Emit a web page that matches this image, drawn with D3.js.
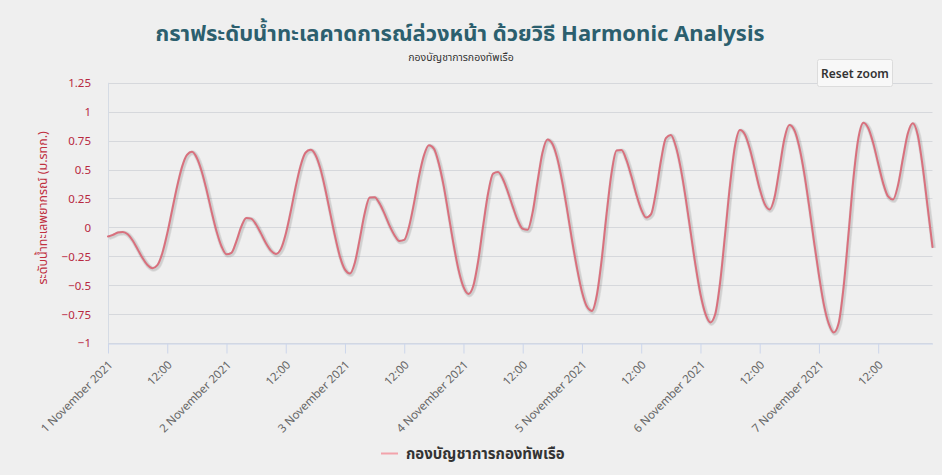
<!DOCTYPE html>
<html>
<head>
<meta charset="utf-8">
<script src="https://cdn.jsdelivr.net/npm/d3@7/dist/d3.min.js"></script>
<style>
  html, body { margin: 0; padding: 0; background: #efefef; }
  svg { display: block; }
</style>
</head>
<body>
<svg id="chart" width="942" height="475"></svg>
<script>
// ---- data ----
const titleText = "กราฟระดับน้ำทะเลคาดการณ์ล่วงหน้า ด้วยวิธี Harmonic Analysis";
const subtitleText = "กองบัญชาการกองทัพเรือ";
const seriesName = "กองบัญชาการกองทัพเรือ";
const yAxisTitle = "ระดับน้ำทะเลพยากรณ์ (ม.รทก.)";
const startTime = "2021-11-01T00:00:00";   // first hourly value
const endTime = "2021-11-07T23:00:00";     // last hourly value
const yTicks = [-1, -0.75, -0.5, -0.25, 0, 0.25, 0.5, 0.75, 1, 1.25];
const xTickLabels = ["1 November 2021", "12:00", "2 November 2021", "12:00", "3 November 2021", "12:00",
  "4 November 2021", "12:00", "5 November 2021", "12:00", "6 November 2021", "12:00",
  "7 November 2021", "12:00"];
// hourly predicted sea level (m)
const levels = [
  -0.08, -0.065, -0.045, -0.04, -0.06, -0.114, -0.189, -0.266, -0.326, -0.354, -0.328, -0.224,
  -0.054, 0.150, 0.353, 0.523, 0.627, 0.653, 0.600, 0.481, 0.317, 0.133, -0.037, -0.166,
  -0.234, -0.221, -0.122, 0.005, 0.081, 0.075, 0.024, -0.055, -0.138, -0.202, -0.230, -0.189,
  -0.058, 0.134, 0.347, 0.531, 0.645, 0.670, 0.628, 0.510, 0.332, 0.125, -0.080, -0.256,
  -0.366, -0.399, -0.306, -0.100, 0.122, 0.257, 0.261, 0.207, 0.118, 0.017, -0.066, -0.118,
  -0.109, 0.010, 0.213, 0.442, 0.622, 0.709, 0.680, 0.553, 0.356, 0.106, -0.148, -0.367,
  -0.516, -0.576, -0.506, -0.287, 0.017, 0.297, 0.465, 0.479, 0.416, 0.305, 0.177, 0.060,
  -0.014, -0.021, 0.127, 0.394, 0.645, 0.760, 0.723, 0.597, 0.396, 0.151, -0.114, -0.354,
  -0.558, -0.686, -0.723, -0.590, -0.279, 0.120, 0.471, 0.665, 0.668, 0.583, 0.443, 0.287,
  0.156, 0.085, 0.114, 0.309, 0.576, 0.771, 0.798, 0.701, 0.512, 0.255, -0.038, -0.328,
  -0.577, -0.747, -0.823, -0.750, -0.472, -0.058, 0.369, 0.703, 0.841, 0.803, 0.680, 0.508,
  0.333, 0.203, 0.155, 0.258, 0.506, 0.764, 0.884, 0.842, 0.699, 0.473, 0.187, -0.121,
  -0.414, -0.669, -0.836, -0.910, -0.828, -0.514, -0.053, 0.428, 0.773, 0.905, 0.857, 0.727,
  0.552, 0.382, 0.267, 0.240, 0.361, 0.593, 0.811, 0.900, 0.800, 0.530, 0.180, -0.170
];

// ---- layout ----
const W = 942, H = 475;
const plot = { left: 108, right: 932.5, top: 82.8, bottom: 342.9 };
const svg = d3.select("#chart");
const FONT = "'Noto Sans', 'Noto Sans Thai', 'Open Sans', 'DejaVu Sans', sans-serif";

// background
svg.append("rect").attr("width", W).attr("height", H).attr("fill", "#efefef");

const t0 = new Date(startTime), t1 = new Date(endTime);
const data = levels.map((v, i) => ({ t: d3.timeHour.offset(t0, i), v }));

const x = d3.scaleTime().domain([t0, t1]).range([plot.left, plot.right]);
const y = d3.scaleLinear().domain([-1, 1.25]).range([plot.bottom, plot.top]);

// horizontal grid
const grid = svg.append("g");
grid.selectAll("line").data(yTicks).join("line")
  .attr("x1", plot.left).attr("x2", plot.right)
  .attr("y1", d => Math.round(y(d)) + 0.5).attr("y2", d => Math.round(y(d)) + 0.5)
  .attr("stroke", "#d6d8dc").attr("stroke-width", 1);

// left plot border
svg.append("line")
  .attr("x1", plot.left + 0.5).attr("x2", plot.left + 0.5)
  .attr("y1", plot.top).attr("y2", plot.bottom)
  .attr("stroke", "#d5dbe4");

// y axis labels
const yAxis = d3.axisLeft(y).tickValues(yTicks).tickSize(0).tickPadding(0)
  .tickFormat(d => d3.format("")(d));
const gy = svg.append("g").attr("transform", `translate(${plot.left - 17},0)`).call(yAxis);
gy.select(".domain").remove();
gy.selectAll("text").attr("font-family", FONT).attr("font-size", 11.5)
  .attr("fill", "#b8283f").attr("dy", "0.35em");

// y axis title
svg.append("text")
  .attr("transform", `translate(47,${(plot.top + plot.bottom) / 2 - 5}) rotate(-90)`)
  .attr("text-anchor", "middle")
  .attr("font-family", FONT).attr("font-size", 12.5)
  .attr("fill", "#c0303f")
  .text(yAxisTitle);

// x axis
const tickDates = xTickLabels.map((_, i) => d3.timeHour.offset(t0, i * 12));
const xAxis = d3.axisBottom(x).tickValues(tickDates).tickSize(10).tickSizeOuter(0)
  .tickFormat((d, i) => xTickLabels[i]);
const gx = svg.append("g").attr("transform", `translate(0,${Math.round(plot.bottom) + 0.5})`).call(xAxis);
gx.select(".domain").attr("stroke", "#ccd6eb");
gx.selectAll(".tick line").attr("stroke", "#ccd6eb");
gx.selectAll("text")
  .attr("font-family", FONT).attr("font-size", 11.5).attr("fill", "#666")
  .attr("text-anchor", "end")
  .attr("dy", 0).attr("y", 0)
  .attr("transform", "translate(5,22) rotate(-45)");

// series line with shadow
const line = d3.line().x(d => x(d.t)).y(d => y(d.v)).curve(d3.curveMonotoneX);
svg.append("path").datum(data).attr("d", line)
  .attr("fill", "none").attr("stroke", "rgba(0,0,0,0.08)").attr("stroke-width", 5)
  .attr("transform", "translate(1,1)").attr("stroke-linejoin", "round");
svg.append("path").datum(data).attr("d", line)
  .attr("fill", "none").attr("stroke", "rgba(0,0,0,0.06)").attr("stroke-width", 3.5)
  .attr("transform", "translate(1,1)").attr("stroke-linejoin", "round");
svg.append("path").datum(data).attr("d", line)
  .attr("fill", "none").attr("stroke", "#d9707d").attr("stroke-width", 2)
  .attr("stroke-linejoin", "round").attr("stroke-linecap", "round");

// title & subtitle
svg.append("text").attr("x", 460).attr("y", 41).attr("text-anchor", "middle")
  .attr("font-family", FONT).attr("font-size", 22).attr("font-weight", "bold")
  .attr("fill", "#2c5f6e").text(titleText);
svg.append("text").attr("x", 461).attr("y", 61).attr("text-anchor", "middle")
  .attr("font-family", FONT).attr("font-size", 10.5)
  .attr("fill", "#333").text(subtitleText);

// reset zoom button
const btn = svg.append("g");
btn.append("rect").attr("x", 817.5).attr("y", 59.5).attr("width", 75).attr("height", 27).attr("rx", 2)
  .attr("fill", "#f8f8f8").attr("stroke", "#dcdcdc");
btn.append("text").attr("x", 855).attr("y", 77.5).attr("text-anchor", "middle")
  .attr("font-family", FONT).attr("font-size", 12).attr("font-weight", 600)
  .attr("fill", "#333").text("Reset zoom");

// legend
const lg = svg.append("g");
lg.append("line").attr("x1", 381).attr("x2", 398).attr("y1", 453.5).attr("y2", 453.5)
  .attr("stroke", "#f2a3ab").attr("stroke-width", 2);
lg.append("text").attr("x", 406).attr("y", 458.5)
  .attr("font-family", FONT).attr("font-size", 15).attr("font-weight", "bold")
  .attr("fill", "#333").text(seriesName);
</script>
</body>
</html>
